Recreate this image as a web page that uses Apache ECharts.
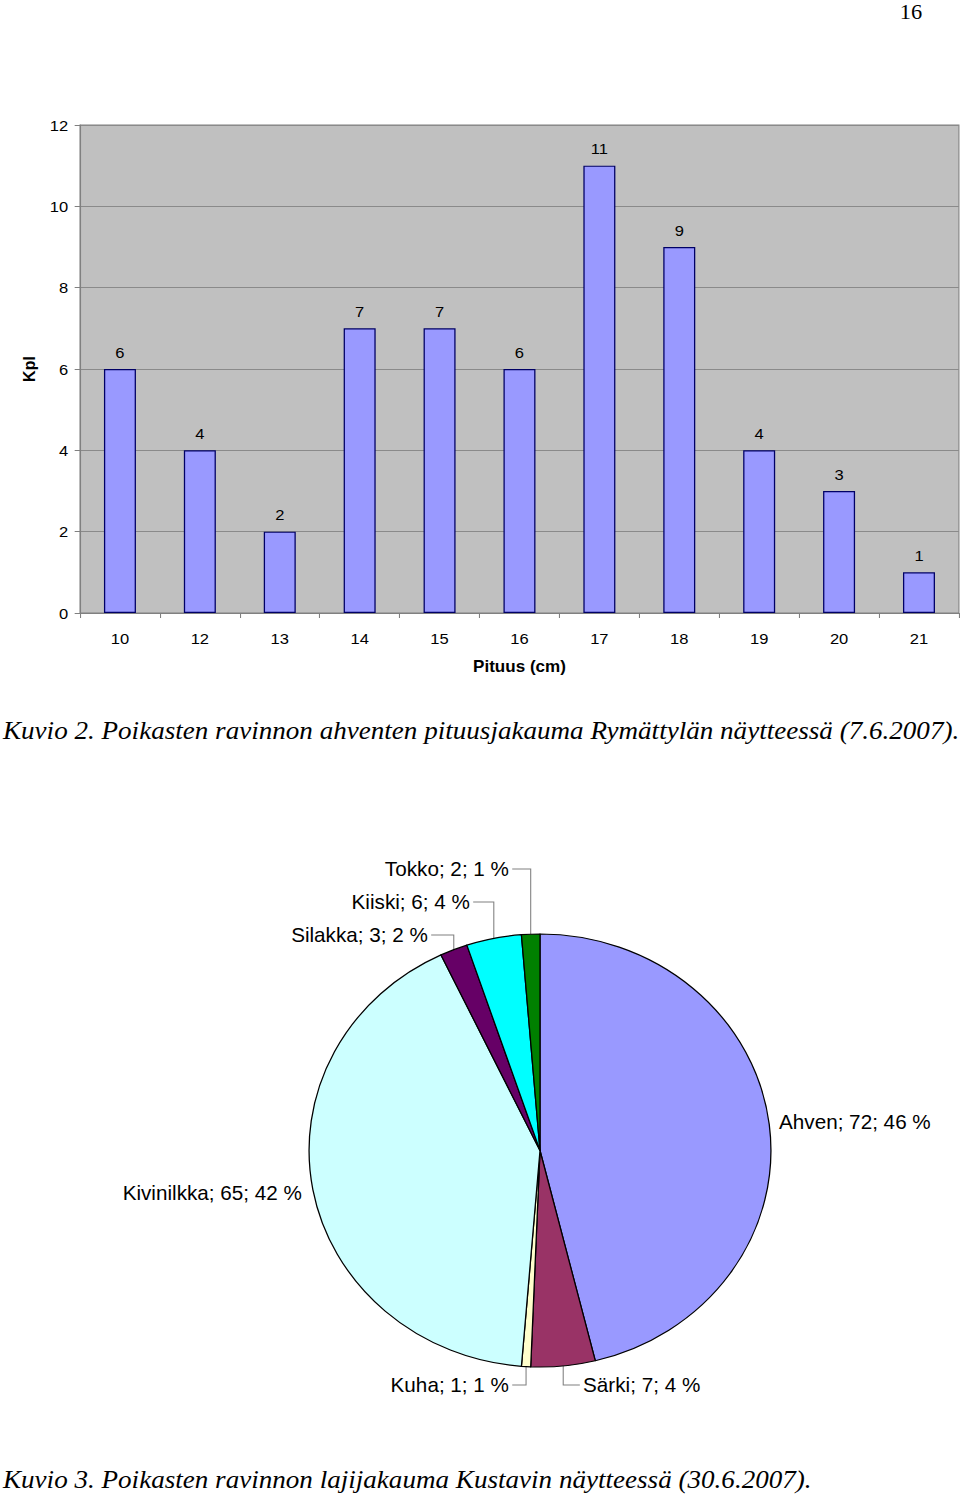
<!DOCTYPE html>
<html><head><meta charset="utf-8">
<script src="https://cdn.jsdelivr.net/npm/echarts/dist/echarts.min.js"></script>
<style>
html,body{margin:0;padding:0;background:#fff;overflow:hidden}
#wrap{width:960px;height:1496px;overflow:hidden}
#c{width:900px;height:1496px;transform:scaleX(1.0666667);transform-origin:0 0}
</style>
</head><body><div id="wrap"><div id="c"></div></div>
<script>
// ---- data ----
const lengthCategories = ['10', '12', '13', '14', '15', '16', '17', '18', '19', '20', '21'];
const lengthCounts = [6, 4, 2, 7, 7, 6, 11, 9, 4, 3, 1];
const countAxisMin = 0, countAxisMax = 12, countAxisStep = 2;

const speciesNames = ['Ahven', 'Särki', 'Kuha', 'Kivinilkka', 'Silakka', 'Kiiski', 'Tokko'];
const speciesCounts = [72, 7, 1, 65, 3, 6, 2];
const speciesPercents = [46, 4, 1, 42, 2, 4, 1];

const pageNumber = '16';
const caption1 = 'Kuvio 2. Poikasten ravinnon ahventen pituusjakauma Rymättylän näytteessä (7.6.2007).';
const caption2 = 'Kuvio 3. Poikasten ravinnon lajijakauma Kustavin näytteessä (30.6.2007).';
const xAxisTitle = 'Pituus (cm)';
const yAxisTitle = 'Kpl';

// ---- styles / layout (chart units; the page is stretched horizontally by 960/900) ----
const sliceColors = ['#9999FF', '#993366', '#FFFFCC', '#CCFFFF', '#660066', '#00FFFF', '#008000'];
const labelPlacement = {
  'Ahven':      {x: 730.3, y: 1122, align: 'left',  line: false},
  'Särki':      {x: 546.6, y: 1385, align: 'left',  line: true},
  'Kuha':       {x: 477.2, y: 1385, align: 'right', line: true},
  'Kivinilkka': {x: 283.1, y: 1193, align: 'right', line: false},
  'Silakka':    {x: 401.2, y: 935,  align: 'right', line: true},
  'Kiiski':     {x: 440.6, y: 902,  align: 'right', line: true},
  'Tokko':      {x: 477.2, y: 869,  align: 'right', line: true}
};
const sans = '"Liberation Sans", Arial, sans-serif';
const serif = '"Liberation Serif", "Times New Roman", serif';

const chart = echarts.init(document.getElementById('c'), null, {renderer: 'svg', width: 900, height: 1496});
chart.setOption({
  animation: false,
  backgroundColor: '#ffffff',
  textStyle: {fontFamily: sans},
  grid: {
    left: 75, top: 125, width: 824, height: 488,
    show: true, backgroundColor: '#C0C0C0', borderColor: '#808080', borderWidth: 1,
    containLabel: false, outerBoundsMode: 'none'
  },
  xAxis: {
    type: 'category', data: lengthCategories, boundaryGap: true,
    name: xAxisTitle, nameLocation: 'middle', nameGap: 46,
    nameTextStyle: {fontFamily: sans, fontSize: 16, fontWeight: 'bold', color: '#000'},
    axisLine: {show: true, lineStyle: {color: '#808080', width: 1}},
    axisTick: {show: true, length: 5, lineStyle: {color: '#808080'}},
    axisLabel: {margin: 17, fontFamily: sans, fontSize: 15.5, color: '#000'},
    splitLine: {show: false}
  },
  yAxis: {
    type: 'value', min: countAxisMin, max: countAxisMax, interval: countAxisStep,
    name: yAxisTitle, nameLocation: 'middle', nameGap: 37, nameRotate: 90,
    nameTextStyle: {fontFamily: sans, fontSize: 16, fontWeight: 'bold', color: '#000'},
    axisLine: {show: true, lineStyle: {color: '#808080', width: 1}},
    axisTick: {show: true, length: 5, lineStyle: {color: '#808080'}},
    axisLabel: {margin: 11, fontFamily: sans, fontSize: 15.5, color: '#000'},
    splitLine: {show: true, lineStyle: {color: '#8a8a8a', width: 1}}
  },
  series: [
    {
      type: 'bar', data: lengthCounts, barWidth: 30,
      itemStyle: {color: '#9999FF', borderColor: '#000066', borderWidth: 1.2},
      label: {show: true, position: 'top', distance: 9, fontFamily: sans, fontSize: 15.5, color: '#000'},
      emphasis: {disabled: true}
    },
    {
      type: 'pie', center: [506.25, 1150.5], radius: 216.5, startAngle: 90, clockwise: true,
      avoidLabelOverlap: false,
      data: speciesNames.map((n, i) => ({
        name: n, value: speciesCounts[i],
        itemStyle: {color: sliceColors[i]},
        labelLine: {show: labelPlacement[n].line}
      })),
      itemStyle: {borderColor: '#000', borderWidth: 1.2},
      label: {
        show: true, position: 'outside', fontFamily: sans, fontSize: 19.4, color: '#000',
        formatter: p => p.name + '; ' + p.value + '; ' + speciesPercents[p.dataIndex] + ' %'
      },
      labelLine: {show: true, length: 10, length2: 10, lineStyle: {color: '#808080', width: 1}},
      labelLayout: function (params) {
        const name = speciesNames[params.dataIndex];
        const p = labelPlacement[name];
        const res = {x: p.x, y: p.y, align: p.align, verticalAlign: 'middle'};
        const pts = params.labelLinePoints;
        if (p.line && pts && pts.length) {
          const a = pts[0];
          const endX = p.align === 'right' ? p.x + 3 : p.x - 3;
          res.labelLinePoints = [[a[0], a[1]], [a[0], p.y], [endX, p.y]];
        }
        return res;
      },
      emphasis: {disabled: true}
    }
  ],
  graphic: [
    {type: 'text', x: 843.5, y: 12, style: {text: pageNumber, font: '21px ' + serif, fill: '#000', textVerticalAlign: 'middle'}},
    {type: 'text', x: 2.8, y: 731, style: {text: caption1, font: 'italic 25.4px ' + serif, fill: '#000', textVerticalAlign: 'middle'}},
    {type: 'text', x: 2.8, y: 1480, style: {text: caption2, font: 'italic 25.4px ' + serif, fill: '#000', textVerticalAlign: 'middle'}}
  ]
});
</script>
</body></html>
